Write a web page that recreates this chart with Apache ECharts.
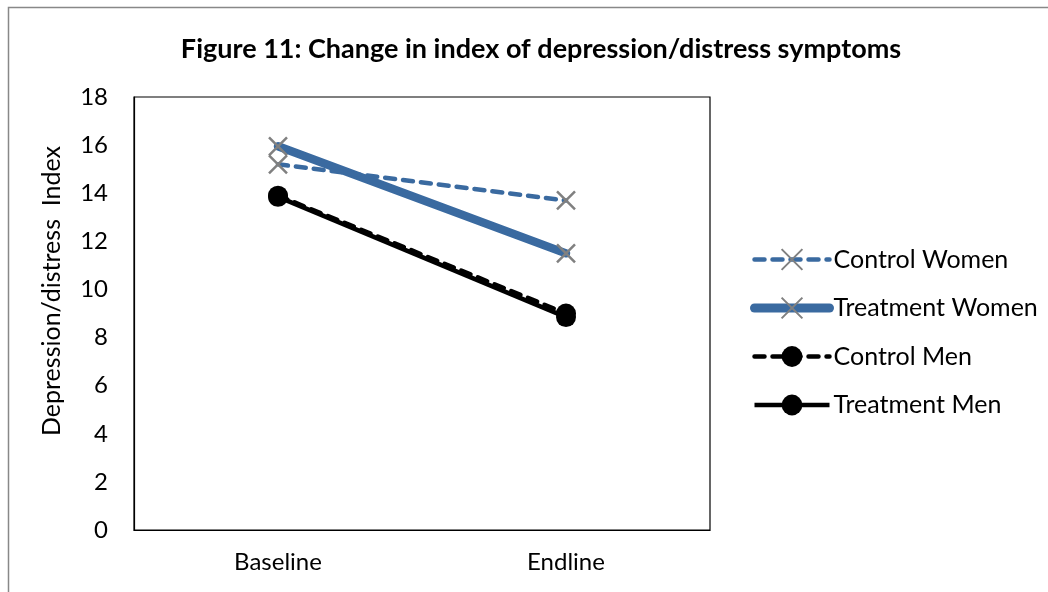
<!DOCTYPE html>
<html><head><meta charset="utf-8">
<script src="https://cdn.jsdelivr.net/npm/echarts@6/dist/echarts.min.js"></script>
<style>html,body{margin:0;padding:0;background:#fff}#c{width:1048px;height:592px}</style>
</head><body><div id="c"></div>
<script>
const categories = ['Baseline', 'Endline'];
const controlWomen = [15.2, 13.7];
const treatmentWomen = [15.95, 11.5];
const controlMen = [13.9, 9.0];
const treatmentMen = [13.85, 8.85];
const yTicks = [0, 18, 2];
const yTitle = 'Depression/distress  Index';

const FONT = 'Lato, "Open Sans", sans-serif';
const BLUE = '#3A6AA0';
const XSYM = 'path://M0,0L10,10M10,0L0,10';
const chart = echarts.init(document.getElementById('c'));
chart.setOption({
  animation: false,
  backgroundColor: '#fff',
  textStyle: { fontFamily: FONT },
  title: {
    text: 'Figure 11: Change in index of depression/distress symptoms',
    left: 536, top: 31, textAlign: 'center',
    textStyle: { fontFamily: FONT, fontSize: 27, fontWeight: 'bold', color: '#000' }
  },
  graphic: [{
    type: 'rect', shape: { x: 8.5, y: 7.5, width: 1060, height: 600 },
    style: { fill: 'none', stroke: '#888', lineWidth: 1.5 }, silent: true, z: -1
  }, {
    type: 'text', x: 52, y: 291, rotation: Math.PI / 2, silent: true,
    style: { text: yTitle, font: '25px ' + FONT, fill: '#000', align: 'center', verticalAlign: 'middle' }
  }],
  grid: { left: 134, right: 338, top: 97, bottom: 62, show: true, borderColor: '#000', borderWidth: 1.2, backgroundColor: 'transparent' },
  legend: {
    orient: 'vertical', left: 750, top: 247, padding: 0, itemGap: 23.5, itemWidth: 75, itemHeight: 26,
    textStyle: { fontFamily: FONT, fontSize: 25, color: '#000', padding: [0, 0, 0, -1] },
    data: [
      { name: 'Control Women', lineStyle: { width: 4.5 } },
      { name: 'Treatment Women', lineStyle: { width: 9 } },
      { name: 'Control Men', lineStyle: { width: 4.5 } },
      { name: 'Treatment Men', lineStyle: { width: 4.5 } }
    ]
  },
  xAxis: {
    type: 'category', data: categories, boundaryGap: true,
    axisLine: { show: true, lineStyle: { color: '#000', width: 1.2 } },
    axisTick: { show: false },
    axisLabel: { fontFamily: FONT, fontSize: 24, color: '#000', margin: 20 }
  },
  yAxis: {
    type: 'value', min: yTicks[0], max: yTicks[1], interval: yTicks[2],
    axisLine: { show: true, lineStyle: { color: '#000', width: 1.2 } },
    axisTick: { show: false },
    splitLine: { show: false },
    axisLabel: { fontFamily: FONT, fontSize: 24, color: '#000', margin: 26 }
  },
  series: [
    { name: 'Control Women', type: 'line', data: controlWomen, z: 3,
      lineStyle: { color: BLUE, width: 4.5, type: [10, 8], cap: 'round' },
      itemStyle: { color: BLUE, borderColor: '#808080', borderWidth: 2.5 },
      symbol: XSYM, symbolSize: 18 },
    { name: 'Treatment Women', type: 'line', data: treatmentWomen, z: 2,
      lineStyle: { color: BLUE, width: 8.5, cap: 'round' },
      itemStyle: { color: BLUE, borderColor: '#808080', borderWidth: 2.5 },
      symbol: XSYM, symbolSize: 18 },
    { name: 'Control Men', type: 'line', data: controlMen, z: 4,
      lineStyle: { color: '#000', width: 4.5, type: [10, 8], cap: 'round' },
      itemStyle: { color: '#000' }, symbol: 'circle', symbolSize: 20 },
    { name: 'Treatment Men', type: 'line', data: treatmentMen, z: 4,
      lineStyle: { color: '#000', width: 4.5 },
      itemStyle: { color: '#000' }, symbol: 'circle', symbolSize: 20 }
  ]
});
</script></body></html>
